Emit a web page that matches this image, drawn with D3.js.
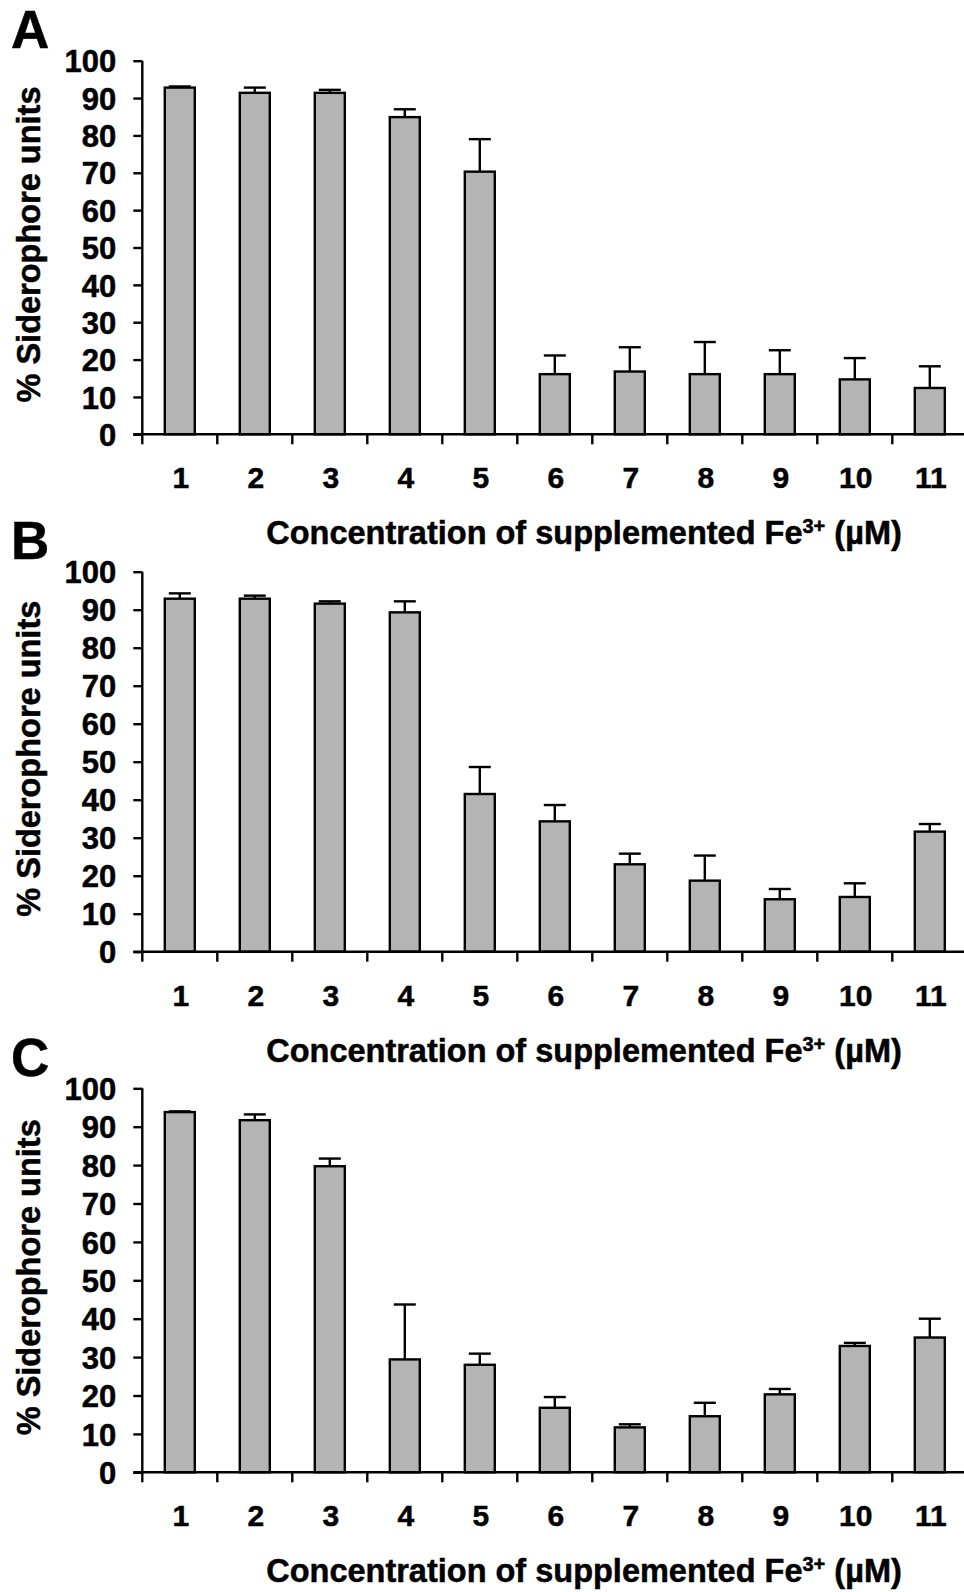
<!DOCTYPE html>
<html>
<head>
<meta charset="utf-8">
<script src="https://cdn.jsdelivr.net/npm/d3@7"></script>
<style>
  body { margin: 0; background: #fff; }
  svg { display: block; }
  text { font-family: "Liberation Sans", Arial, sans-serif; font-weight: bold; fill: #000; stroke: #000; stroke-width: 0.5px; }
</style>
</head>
<body>
<svg class="chart"></svg>
<script>
var width = 964,
    height = 1592;

// data
var categories = ["1", "2", "3", "4", "5", "6", "7", "8", "9", "10", "11"];
var yTicks = [0, 10, 20, 30, 40, 50, 60, 70, 80, 90, 100];

var valuesA = [92.8, 91.4, 91.4, 84.9, 70.3, 16.1, 16.8, 16.1, 16.1, 14.7, 12.4];
var errA    = [0.3, 1.4, 0.8, 2.1, 8.7, 5.0, 6.5, 8.6, 6.4, 5.7, 5.8];

var valuesB = [92.9, 92.9, 91.6, 89.3, 41.5, 34.3, 23.0, 18.7, 13.8, 14.4, 31.6];
var errB    = [1.4, 0.8, 0.6, 2.9, 7.1, 4.3, 2.8, 6.6, 2.7, 3.6, 2.0];

var valuesC = [93.8, 91.7, 79.7, 29.4, 28.0, 16.8, 11.7, 14.6, 20.3, 32.9, 35.1];
var errC    = [0.2, 1.5, 2.0, 14.3, 2.9, 2.8, 0.8, 3.5, 1.4, 0.8, 4.9];

var panelLetters = ["A", "B", "C"];
var yTitle = "% Siderophore units";

// layout (pixel positions of 100 and 0 for each panel)
var layout = [
  { top: 60.7, bottom: 434.3 },
  { top: 571.7, bottom: 951.7 },
  { top: 1088.3, bottom: 1472.3 }
];
var values = [valuesA, valuesB, valuesC];
var errors = [errA, errB, errC];

var x0 = 142.3, band = 75;

var x = d3.scaleBand()
    .domain(categories)
    .range([x0, x0 + band * categories.length])
    .paddingInner(0)
    .paddingOuter(0);

var barW = 30;

var chart = d3.select(".chart")
    .attr("width", width)
    .attr("height", height);

layout.forEach(function(p, k) {
  var y = d3.scaleLinear()
      .domain([0, 100])
      .range([p.bottom, p.top]);

  var g = chart.append("g");

  var data = categories.map(function(c, i) {
    return { cat: c, value: values[k][i], err: errors[k][i] };
  });

  // bars
  g.selectAll("rect.bar")
      .data(data)
    .enter().append("rect")
      .attr("class", "bar")
      .attr("x", function(d) { return x(d.cat) + (band - barW) / 2; })
      .attr("width", barW)
      .attr("y", function(d) { return y(d.value); })
      .attr("height", function(d) { return y(0) - y(d.value); })
      .attr("fill", "#b4b4b4")
      .attr("stroke", "#000")
      .attr("stroke-width", 2.4);

  // upper error bars
  var eb = g.selectAll("g.err")
      .data(data)
    .enter().append("g")
      .attr("class", "err")
      .attr("transform", function(d) { return "translate(" + (x(d.cat) + band / 2) + ",0)"; });

  eb.append("line")
      .attr("y1", function(d) { return y(d.value); })
      .attr("y2", function(d) { return y(d.value + d.err); })
      .attr("stroke", "#000")
      .attr("stroke-width", 2.4);

  eb.append("line")
      .attr("x1", -11)
      .attr("x2", 11)
      .attr("y1", function(d) { return y(d.value + d.err); })
      .attr("y2", function(d) { return y(d.value + d.err); })
      .attr("stroke", "#000")
      .attr("stroke-width", 2.4);

  // y axis
  var yAxis = d3.axisLeft(y)
      .tickValues(yTicks)
      .tickSize(9)
      .tickPadding(17);

  var ya = g.append("g")
      .attr("transform", "translate(" + x0 + ",0)")
      .call(yAxis);
  ya.select(".domain").attr("d", "M0," + y(100) + "V" + y(0)).attr("stroke-width", 2.4);
  ya.selectAll(".tick line").attr("stroke-width", 2.4);
  ya.selectAll(".tick text")
      .style("font-size", "31px")
      .style("font-family", "'Liberation Sans', Arial, sans-serif")
      .style("font-weight", "bold")
      .attr("dy", "0.36em");

  // x axis line + boundary ticks
  g.append("line")
      .attr("x1", x0 - 9)
      .attr("x2", width + 10)
      .attr("y1", y(0))
      .attr("y2", y(0))
      .attr("stroke", "#000")
      .attr("stroke-width", 2.4);

  g.selectAll("line.xtick")
      .data(d3.range(categories.length + 1))
    .enter().append("line")
      .attr("class", "xtick")
      .attr("x1", function(i) { return x0 + i * band; })
      .attr("x2", function(i) { return x0 + i * band; })
      .attr("y1", y(0))
      .attr("y2", y(0) + 10)
      .attr("stroke", "#000")
      .attr("stroke-width", 2.4);

  g.selectAll("text.xlab")
      .data(categories)
    .enter().append("text")
      .attr("class", "xlab")
      .attr("x", function(d) { return x(d) + band / 2 + 1; })
      .attr("y", y(0) + 54)
      .attr("text-anchor", "middle")
      .style("font-size", "30px")
      .text(function(d) { return d; });

  // x title
  var xt = g.append("text")
      .attr("x", 584)
      .attr("y", y(0) + 110)
      .attr("text-anchor", "middle")
      .style("font-size", "32.5px");
  xt.append("tspan").text("Concentration of supplemented Fe");
  xt.append("tspan").attr("dy", -11).style("font-size", "20px").text("3+");
  xt.append("tspan").attr("dy", 11).text(" (µM)");

  // y title
  g.append("text")
      .attr("transform", "translate(40," + ((p.top + p.bottom) / 2 - 3) + ") rotate(-90)")
      .attr("text-anchor", "middle")
      .style("font-size", "32.5px")
      .text(yTitle);

  // panel letter
  g.append("text")
      .attr("x", 11)
      .attr("y", p.top - 12.5)
      .style("font-size", "53px")
      .text(panelLetters[k]);
});
</script>
</body>
</html>
